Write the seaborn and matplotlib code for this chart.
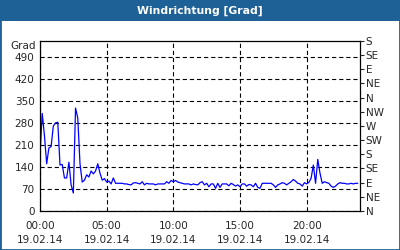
import matplotlib
matplotlib.use("Agg")
import matplotlib.pyplot as plt
import seaborn as sns
import numpy as np
import pandas as pd
from matplotlib.patches import Rectangle

# ---- data (10-minute samples, hours since 00:00 19.02.14) ----
values = [
    178, 310, 240, 150, 200, 205, 270, 280, 282, 146,
    148, 105, 105, 155, 83, 57, 327, 295, 150, 92,
    98, 115, 108, 127, 118, 127, 150, 120, 98, 103,
    92, 95, 86, 105, 88, 88, 88, 88, 86, 86,
    84, 83, 89, 90, 88, 86, 93, 83, 88, 86,
    86, 86, 83, 86, 86, 86, 86, 93, 88, 97,
    93, 97, 92, 90, 88, 86, 86, 86, 83, 86,
    84, 83, 90, 93, 83, 88, 77, 86, 86, 72,
    88, 75, 86, 86, 86, 80, 88, 84, 79, 83,
    77, 86, 86, 79, 84, 83, 77, 88, 75, 72,
    88, 88, 88, 88, 88, 83, 75, 83, 86, 90,
    88, 83, 88, 93, 100, 95, 88, 86, 79, 90,
    86, 91, 104, 146, 88, 164, 120, 88, 93, 90,
    88, 79, 75, 79, 86, 90, 88, 88, 86, 86,
    88, 86, 88, 88,
]
hours = [i / 6 for i in range(len(values))]

left_ticks = [0, 70, 140, 210, 280, 350, 420, 490]
dir_ticks = [0, 45, 90, 135, 180, 225, 270, 315, 360, 405, 450, 495, 540]
dir_labels = ["N", "NE", "E", "SE", "S", "SW", "W", "NW", "N", "NE", "E", "SE", "S"]
x_ticks = [0, 5, 10, 15, 20]
x_labels = ["00:00\n19.02.14", "05:00\n19.02.14", "10:00\n19.02.14",
            "15:00\n19.02.14", "20:00\n19.02.14"]
title = "Windrichtung [Grad]"
unit = "Grad"

df = pd.DataFrame({"h": hours, "deg": values})

sns.set_style("white")
plt.rcParams["font.family"] = ["DejaVu Sans"]

BLUE_FRAME = "#1e6196"
fig = plt.figure(figsize=(4, 2.5), dpi=100)
fig.patch.set_facecolor("white")

# frame + title bar
fig.add_artist(Rectangle((0, 0), 1, 1, transform=fig.transFigure,
                         facecolor="none", edgecolor=BLUE_FRAME, linewidth=2.0))
fig.add_artist(Rectangle((0, 1 - 21 / 250), 1, 21 / 250, transform=fig.transFigure,
                         facecolor=BLUE_FRAME, edgecolor="none"))
fig.text(0.5, 1 - 10.5 / 250, title, color="white", fontsize=7.8,
         fontweight="bold", ha="center", va="center")

ax = fig.add_axes([40 / 400, (250 - 211) / 250, 320 / 400, 170 / 250])
sns.lineplot(data=df, x="h", y="deg", ax=ax, color="#0000ff", linewidth=0.9)

ax.set_xlim(0, 24)
ax.set_ylim(0, 540)
ax.set_xlabel("")
ax.set_ylabel("")
ax.set_yticks(left_ticks)
ax.set_yticklabels([str(v) for v in left_ticks], fontsize=7.5)
ax.set_xticks(x_ticks)
ax.set_xticklabels(x_labels, fontsize=7.5, linespacing=1.55)
ax.set_xticks(range(0, 25), minor=True)
ax.tick_params(axis="x", which="both", direction="out", length=3, width=0.8,
               color="black", pad=4)
ax.tick_params(axis="y", length=0, pad=4)
ax.grid(True, which="major", color="black", linestyle=(0, (3.8, 2.6)), linewidth=0.8)
for s in ax.spines.values():
    s.set_visible(True)
    s.set_color("black")
    s.set_linewidth(0.9)

ax.text(-0.012, 1.0, unit, transform=ax.transAxes, ha="right", va="top", fontsize=7.5)

ax2 = ax.twinx()
ax2.set_ylim(0, 540)
ax2.set_yticks(dir_ticks)
ax2.set_yticklabels(dir_labels, fontsize=7.5)
ax2.tick_params(axis="y", direction="out", length=3, width=0.8, pad=1)
ax2.grid(False)
for s in ax2.spines.values():
    s.set_visible(False)

fig.savefig("out.png", dpi=100, facecolor=fig.get_facecolor())
